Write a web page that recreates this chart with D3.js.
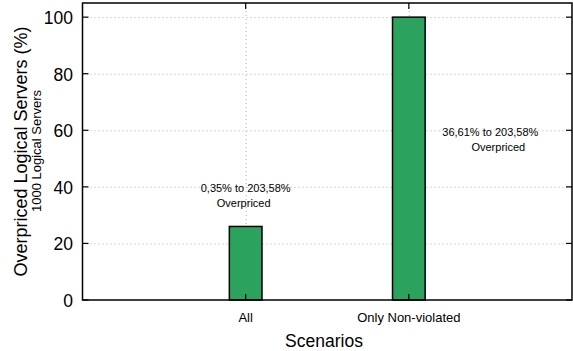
<!DOCTYPE html>
<html>
<head>
<meta charset="utf-8">
<script src="https://cdn.jsdelivr.net/npm/d3@7"></script>
<style>
  html, body { margin: 0; padding: 0; background: #fff; }
  svg { display: block; font-family: "Liberation Sans", Arial, Helvetica, sans-serif; }
</style>
</head>
<body>
<svg id="chart" width="573" height="351"></svg>
<script>
// Scenario categories and share of overpriced logical servers (%)
const categories = ["All", "Only Non-violated"];
const overpriced = [26, 100];
const rangeLabels = ["0,35% to 203,58%", "36,61% to 203,58%"];
const rangeSuffix = ["Overpriced", "Overpriced"];
const yTicks = [0, 20, 40, 60, 80, 100];

const svg = d3.select("#chart");
const plot = { left: 82.5, right: 572, top: 3, bottom: 300 };

// categories sit at integer positions 0..n-1 inside [-1, 2]
const x = d3.scaleLinear().domain([-1, 2]).range([plot.left, plot.right]);
const y = d3.scaleLinear().domain([0, 105]).range([plot.bottom, plot.top]);
const barWidth = 0.2;

// dotted grid
const grid = svg.append("g").attr("stroke", "#b0b0b0").attr("stroke-width", 1)
  .attr("stroke-dasharray", "1,3");
grid.selectAll("line.h").data(yTicks.filter(d => d > 0)).join("line")
  .attr("x1", plot.left).attr("x2", plot.right)
  .attr("y1", d => y(d) + 0.5).attr("y2", d => y(d) + 0.5);
grid.selectAll("line.v").data(categories).join("line")
  .attr("x1", (d, i) => x(i) + 0.5).attr("x2", (d, i) => x(i) + 0.5)
  .attr("y1", plot.bottom).attr("y2", plot.top);

// bars
svg.append("g").selectAll("rect").data(overpriced).join("rect")
  .attr("x", (d, i) => x(i - barWidth / 2))
  .attr("width", (d, i) => x(i + barWidth / 2) - x(i - barWidth / 2))
  .attr("y", d => y(d))
  .attr("height", d => y(0) - y(d))
  .attr("fill", "#2ca25f")
  .attr("stroke", "#000")
  .attr("stroke-width", 1.5);

// border
svg.append("rect")
  .attr("x", plot.left).attr("y", plot.top)
  .attr("width", plot.right - plot.left).attr("height", plot.bottom - plot.top)
  .attr("fill", "none").attr("stroke", "#000").attr("stroke-width", 1.5);

// tick marks (inward, mirrored)
const ticks = svg.append("g").attr("stroke", "#000").attr("stroke-width", 1.2);
ticks.selectAll("line.yl").data(yTicks).join("line")
  .attr("x1", plot.left).attr("x2", plot.left + 6)
  .attr("y1", d => y(d)).attr("y2", d => y(d));
ticks.selectAll("line.yr").data(yTicks).join("line")
  .attr("x1", plot.right - 6).attr("x2", plot.right)
  .attr("y1", d => y(d)).attr("y2", d => y(d));
ticks.selectAll("line.xb").data(categories).join("line")
  .attr("x1", (d, i) => x(i)).attr("x2", (d, i) => x(i))
  .attr("y1", plot.bottom).attr("y2", plot.bottom - 6);
ticks.selectAll("line.xt").data(categories).join("line")
  .attr("x1", (d, i) => x(i)).attr("x2", (d, i) => x(i))
  .attr("y1", plot.top).attr("y2", plot.top + 6);

// y tick labels
svg.append("g").selectAll("text").data(yTicks).join("text")
  .attr("x", 73).attr("y", d => y(d) + 7)
  .attr("text-anchor", "end").attr("font-size", 17.5).attr("fill", "#000")
  .text(d => d);

// category labels
svg.append("g").selectAll("text").data(categories).join("text")
  .attr("x", (d, i) => x(i)).attr("y", 322)
  .attr("text-anchor", "middle").attr("font-size", 13).attr("fill", "#000")
  .text(d => d);

// axis titles
svg.append("text").attr("x", 324).attr("y", 347)
  .attr("text-anchor", "middle").attr("font-size", 17.5).text("Scenarios");
svg.append("text")
  .attr("transform", "translate(26.5,151.5) rotate(-90)")
  .attr("text-anchor", "middle").attr("font-size", 18)
  .text("Overpriced Logical Servers (%)");
svg.append("text")
  .attr("transform", "translate(40.5,151) rotate(-90)")
  .attr("text-anchor", "middle").attr("font-size", 13)
  .text("1000 Logical Servers");

// range annotations
const annX = [x(0), x(1) + 81.5];
const annY = [191.5, 135.5];
const ann = svg.append("g").attr("font-size", 11).attr("text-anchor", "middle").attr("fill", "#000");
ann.selectAll("text.l1").data(rangeLabels).join("text")
  .attr("x", (d, i) => annX[i]).attr("y", (d, i) => annY[i])
  .text(d => d);
ann.selectAll("text.l2").data(rangeSuffix).join("text")
  .attr("x", (d, i) => annX[i] + (i === 1 ? 8 : -2)).attr("y", (d, i) => annY[i] + 15)
  .text(d => d);
</script>
</body>
</html>
